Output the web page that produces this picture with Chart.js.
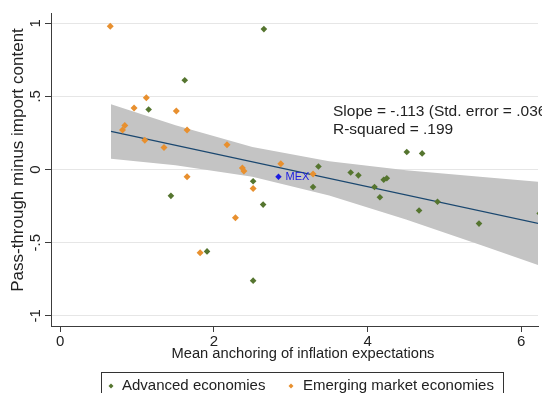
<!DOCTYPE html>
<html>
<head>
<meta charset="utf-8">
<script src="https://cdn.jsdelivr.net/npm/chart.js@4.4.1/dist/chart.umd.min.js"></script>
<style>
  html, body { margin: 0; padding: 0; background: #ffffff; }
  #wrap { width: 542px; height: 393px; }
</style>
</head>
<body>
<div id="wrap"><canvas id="c" width="542" height="393"></canvas></div>
<script>
// Advanced economies
const advX = [2.65, 1.62, 1.15, 1.44, 2.51, 2.64, 1.91, 2.51, 3.36, 3.29, 3.78, 3.88, 4.09, 4.16, 4.21, 4.25, 4.51, 4.71, 4.67, 4.91, 5.45, 6.24];
const advY = [0.96, 0.61, 0.41, -0.18, -0.08, -0.24, -0.56, -0.76, 0.02, -0.12, -0.02, -0.04, -0.12, -0.19, -0.07, -0.06, 0.12, 0.11, -0.28, -0.22, -0.37, -0.30];

// Emerging market economies
const emgX = [0.65, 1.12, 0.96, 1.51, 0.84, 0.81, 1.65, 1.10, 1.35, 2.17, 2.37, 2.39, 2.87, 3.29, 1.65, 2.51, 2.28, 1.82];
const emgY = [0.98, 0.49, 0.42, 0.40, 0.30, 0.27, 0.27, 0.20, 0.15, 0.17, 0.01, -0.01, 0.04, -0.03, -0.05, -0.13, -0.33, -0.57];

// Mexico, highlighted
const mexX = [2.84];
const mexY = [-0.05];
const mexLabel = 'MEX';

// Linear fit and its confidence band
const fitSlope = -0.113;
const fitIntercept = 0.335;
const fitXRange = [0.66, 6.22];
const bandX = [0.66, 1.5, 2.5, 3.5, 4.5, 5.5, 6.22];
const bandUpper = [0.446, 0.302, 0.154, 0.056, -0.005, -0.052, -0.083];
const bandLower = [0.074, 0.029, -0.049, -0.177, -0.342, -0.521, -0.653];

// Axis ticks
const xTicks = [0, 2, 4, 6];
const yTicks = [-1, -0.5, 0, 0.5, 1];
const yTickLabels = ['-1', '-.5', '0', '.5', '1'];

const xTitle = 'Mean anchoring of inflation expectations';
const yTitle = 'Pass-through minus import content';
const statLines = ['Slope = -.113 (Std. error = .036)', 'R-squared = .199'];
const seriesNames = ['Advanced economies', 'Emerging market economies'];

const GREEN = '#55752f';
const ORANGE = '#e8902f';
const MEXBLUE = '#1c1ce0';
const TEXT = '#222222';
const AXIS = '#3c3c3c';
const FONT = '"Liberation Sans", Arial, sans-serif';

const pts = (xs, ys) => xs.map((x, i) => ({ x, y: ys[i] }));
const fitPts = fitXRange.map(x => ({ x, y: fitIntercept + fitSlope * x }));

// Texts drawn by hand: rotated y tick labels, axis titles, fit statistics, MEX tag, boxed legend
const decor = {
  id: 'decor',
  afterDraw(chart) {
    const ctx = chart.ctx;
    const ys = chart.scales.y;
    ctx.save();
    ctx.fillStyle = TEXT;
    ctx.font = '15px ' + FONT;
    ctx.textAlign = 'center';
    ctx.textBaseline = 'middle';
    yTicks.forEach((v, i) => {
      ctx.save();
      ctx.translate(36, ys.getPixelForValue(v));
      ctx.rotate(-Math.PI / 2);
      ctx.fillText(yTickLabels[i], 0, 0);
      ctx.restore();
    });
    ctx.save();
    ctx.font = '17px ' + FONT;
    ctx.translate(18, 160);
    ctx.rotate(-Math.PI / 2);
    ctx.fillText(yTitle, 0, 0);
    ctx.restore();

    ctx.font = '14.7px ' + FONT;
    ctx.fillText(xTitle, 303, 354);

    ctx.textAlign = 'left';
    ctx.textBaseline = 'alphabetic';
    ctx.font = '15.5px ' + FONT;
    ctx.fillText(statLines[0], 333, 116);
    ctx.fillText(statLines[1], 333, 134);

    const mex = chart.getDatasetMeta(0).data[0];
    ctx.fillStyle = MEXBLUE;
    ctx.font = '11px ' + FONT;
    ctx.textBaseline = 'middle';
    ctx.fillText(mexLabel, mex.x + 7, mex.y + 0.5);

    // legend
    ctx.strokeStyle = '#333333';
    ctx.lineWidth = 1;
    ctx.strokeRect(101.5, 372.5, 402, 30);
    const items = [
      { color: GREEN, x: 111, tx: 122 },
      { color: ORANGE, x: 291, tx: 303 }
    ];
    ctx.font = '15px ' + FONT;
    items.forEach((it, i) => {
      ctx.fillStyle = it.color;
      ctx.beginPath();
      ctx.moveTo(it.x, 383.5);
      ctx.lineTo(it.x + 2.5, 386);
      ctx.lineTo(it.x, 388.5);
      ctx.lineTo(it.x - 2.5, 386);
      ctx.closePath();
      ctx.fill();
      ctx.fillStyle = TEXT;
      ctx.fillText(seriesNames[i], it.tx, 386);
    });
    ctx.restore();
  }
};

new Chart(document.getElementById('c'), {
  type: 'scatter',
  data: {
    datasets: [
      { label: 'MEX', data: pts(mexX, mexY), pointStyle: 'rectRot', pointRadius: 3.2,
        backgroundColor: MEXBLUE, borderColor: MEXBLUE, borderWidth: 0 },
      { label: seriesNames[0], data: pts(advX, advY), pointStyle: 'rectRot', pointRadius: 3.3,
        backgroundColor: GREEN, borderColor: GREEN, borderWidth: 0 },
      { label: seriesNames[1], data: pts(emgX, emgY), pointStyle: 'rectRot', pointRadius: 3.5,
        backgroundColor: ORANGE, borderColor: ORANGE, borderWidth: 0 },
      { type: 'line', label: 'Fitted values', data: fitPts, showLine: true, pointRadius: 0,
        borderColor: '#1a476f', borderWidth: 1.2, fill: false },
      { type: 'line', label: 'CI upper', data: pts(bandX, bandUpper), showLine: true, pointRadius: 0,
        borderWidth: 0, borderColor: 'rgba(0,0,0,0)', fill: false },
      { type: 'line', label: 'CI lower', data: pts(bandX, bandLower), showLine: true, pointRadius: 0,
        borderWidth: 0, borderColor: 'rgba(0,0,0,0)', backgroundColor: '#c4c4c4', fill: '-1' }
    ]
  },
  options: {
    responsive: false,
    animation: false,
    devicePixelRatio: 1,
    layout: { padding: { top: 13, right: 0, bottom: 0, left: 0 } },
    plugins: { legend: { display: false }, tooltip: { enabled: false } },
    scales: {
      x: {
        type: 'linear', min: -0.121, max: 6.218,
        afterBuildTicks: s => { s.ticks = xTicks.map(v => ({ value: v })); },
        afterFit: s => { s.height = 67; },
        grid: { drawOnChartArea: false, drawTicks: true, tickLength: 6, tickColor: AXIS },
        border: { display: true, color: AXIS, width: 1 },
        ticks: { autoSkip: false, maxRotation: 0, padding: 1, color: TEXT,
                 font: { family: FONT, size: 15 }, callback: v => String(v) },
        title: { display: false }
      },
      y: {
        type: 'linear', min: -1.07, max: 1.07,
        afterBuildTicks: s => { s.ticks = yTicks.map(v => ({ value: v })); },
        afterFit: s => { s.width = 51; },
        grid: { color: '#e6e6e6', lineWidth: 1, drawTicks: true, tickLength: 6, tickColor: AXIS },
        border: { display: true, color: AXIS, width: 1 },
        ticks: { display: false }
      }
    }
  },
  plugins: [decor]
});
</script>
</body>
</html>
